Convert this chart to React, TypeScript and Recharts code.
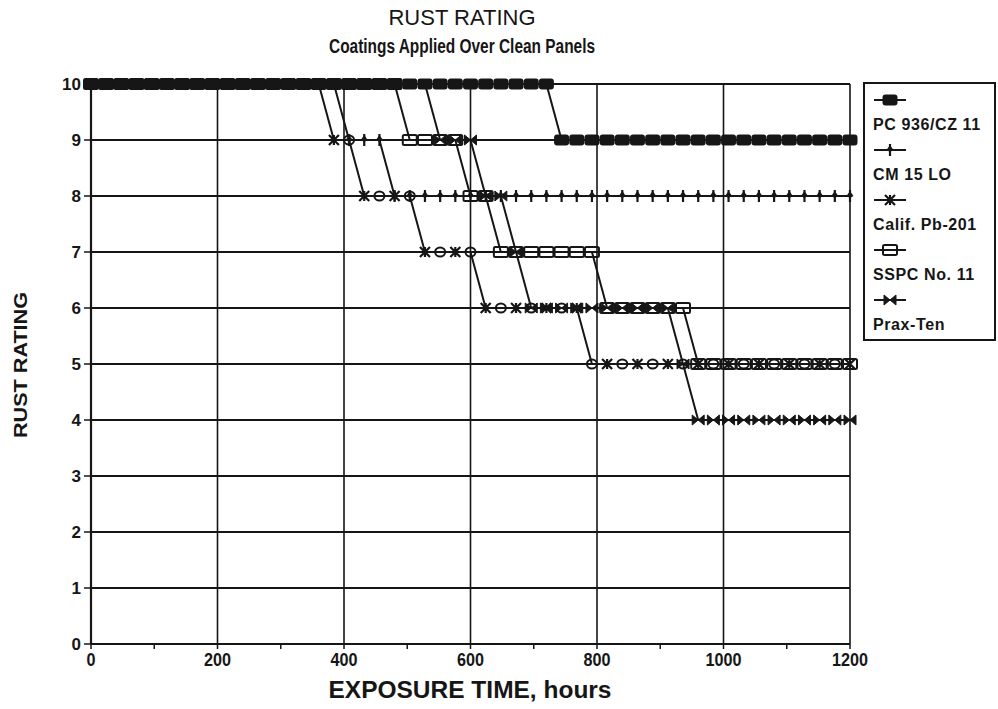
import React from "react";
import { LineChart, Line, XAxis, YAxis, CartesianGrid, ReferenceLine } from "recharts";

// exposure time (hours) of each inspection
const hours = [
  0, 24, 48, 72, 96, 120, 144, 168, 192, 216, 240, 264, 288, 312, 336, 360, 384, 408, 432, 456,
  480, 504, 528, 552, 576, 600, 624, 648, 672, 696, 720, 744, 768, 792, 816, 840, 864, 888, 912,
  936, 960, 984, 1008, 1032, 1056, 1080, 1104, 1128, 1152, 1176, 1200,
];

// rust rating for each coating
const pcRating = [
  10, 10, 10, 10, 10, 10, 10, 10, 10, 10, 10, 10, 10, 10, 10, 10, 10, 10, 10, 10,
  10, 10, 10, 10, 10, 10, 10, 10, 10, 10, 10, 9, 9, 9, 9, 9, 9, 9, 9,
  9, 9, 9, 9, 9, 9, 9, 9, 9, 9, 9, 9,
];
const cmRating = [
  10, 10, 10, 10, 10, 10, 10, 10, 10, 10, 10, 10, 10, 10, 10, 10, 10, 9, 9, 9,
  8, 8, 8, 8, 8, 8, 8, 8, 8, 8, 8, 8, 8, 8, 8, 8, 8, 8, 8,
  8, 8, 8, 8, 8, 8, 8, 8, 8, 8, 8, 8,
];
const califRating = [
  10, 10, 10, 10, 10, 10, 10, 10, 10, 10, 10, 10, 10, 10, 10, 10, 9, 9, 8, 8,
  8, 8, 7, 7, 7, 7, 6, 6, 6, 6, 6, 6, 6, 5, 5, 5, 5, 5, 5,
  5, 5, 5, 5, 5, 5, 5, 5, 5, 5, 5, 5,
];
const sspcRating = [
  10, 10, 10, 10, 10, 10, 10, 10, 10, 10, 10, 10, 10, 10, 10, 10, 10, 10, 10, 10,
  10, 9, 9, 9, 9, 8, 8, 7, 7, 7, 7, 7, 7, 7, 6, 6, 6, 6, 6,
  6, 5, 5, 5, 5, 5, 5, 5, 5, 5, 5, 5,
];
const praxRating = [
  10, 10, 10, 10, 10, 10, 10, 10, 10, 10, 10, 10, 10, 10, 10, 10, 10, 10, 10, 10,
  10, 10, 10, 9, 9, 9, 8, 8, 7, 6, 6, 6, 6, 6, 6, 6, 6, 6, 6,
  5, 4, 4, 4, 4, 4, 4, 4, 4, 4, 4, 4,
];

const seriesNames = ["PC 936/CZ 11", "CM 15 LO", "Calif. Pb-201", "SSPC No. 11", "Prax-Ten"];
const seriesKinds = ["pc", "cm", "calif", "sspc", "prax"];

const xTicks = [0, 100, 200, 300, 400, 500, 600, 700, 800, 900, 1000, 1100, 1200];
const yTicks = [0, 1, 2, 3, 4, 5, 6, 7, 8, 9, 10];
const gridHours = [200, 400, 600, 800, 1000, 1200];

const rows = hours.map((h, i) => ({
  h,
  pc: pcRating[i],
  cm: cmRating[i],
  calif: califRating[i],
  sspc: sspcRating[i],
  prax: praxRating[i],
}));

const INK = "#161616";
const FONT = "'Liberation Sans', Arial, sans-serif";

function Marker({ kind, cx, cy, index }: { kind: string; cx: number; cy: number; index: number }) {
  if (cx == null || cy == null) return null;
  switch (kind) {
    case "pc":
      return <rect x={cx - 7.5} y={cy - 5.5} width={15} height={11} rx={3} fill={INK} />;
    case "cm":
      return (
        <g>
          <line x1={cx} y1={cy - 6} x2={cx} y2={cy + 6} stroke={INK} strokeWidth={2.2} />
          <path d={`M${cx - 3.5} ${cy} L${cx} ${cy - 5} L${cx + 3.5} ${cy} L${cx} ${cy + 2} Z`} fill={INK} />
        </g>
      );
    case "calif":
      return index % 2 === 0 ? (
        <path
          d={`M${cx - 5} ${cy - 5} L${cx + 5} ${cy + 5} M${cx - 5} ${cy + 5} L${cx + 5} ${cy - 5} M${cx} ${cy - 5} L${cx} ${cy + 5}`}
          stroke={INK}
          strokeWidth={2.2}
          fill="none"
        />
      ) : (
        <ellipse cx={cx} cy={cy} rx={5} ry={4.5} stroke={INK} strokeWidth={2} fill="none" />
      );
    case "sspc":
      return <rect x={cx - 7} y={cy - 5} width={14} height={10} rx={1.5} stroke={INK} strokeWidth={2} fill="none" />;
    case "prax":
      return (
        <path
          d={`M${cx - 6} ${cy - 5} L${cx + 6} ${cy + 5} L${cx + 6} ${cy - 5} L${cx - 6} ${cy + 5} Z`}
          fill={INK}
          stroke={INK}
          strokeWidth={1}
        />
      );
    default:
      return null;
  }
}

function dotFor(kind: string) {
  return (p: any) => <Marker key={`${kind}-${p.index}`} kind={kind} cx={p.cx} cy={p.cy} index={p.index} />;
}

function XTick({ x, y, payload }: any) {
  if (payload.value % 200 !== 0) return <g />;
  const w = String(payload.value).length * 9;
  return (
    <text
      x={x}
      y={y + 15}
      textAnchor="middle"
      fontFamily={FONT}
      fontWeight="bold"
      fontSize={19}
      textLength={w}
      lengthAdjust="spacingAndGlyphs"
      fill={INK}
    >
      {payload.value}
    </text>
  );
}

function YTick({ x, y, payload }: any) {
  return (
    <text x={x - 1} y={y + 6} textAnchor="end" fontFamily={FONT} fontWeight="bold" fontSize={17} fill={INK}>
      {payload.value}
    </text>
  );
}

export default function App() {
  return (
    <div style={{ position: "absolute", left: 0, top: 0, width: 998, height: 709, background: "#fff" }}>
      <LineChart width={998} height={709} data={rows} margin={{ top: 84, right: 148, bottom: 35, left: 61 }}>
        <CartesianGrid vertical={false} stroke={INK} strokeWidth={2} />
        {gridHours.map((g) => (
          <ReferenceLine key={g} x={g} stroke={INK} strokeWidth={1.6} />
        ))}
        <ReferenceLine y={10} stroke={INK} strokeWidth={1.6} />
        <XAxis
          dataKey="h"
          type="number"
          domain={[0, 1200]}
          ticks={xTicks}
          tick={<XTick />}
          tickSize={5}
          tickLine={{ stroke: INK, strokeWidth: 1.5 }}
          axisLine={{ stroke: INK, strokeWidth: 2.2 }}
          height={30}
          interval={0}
        />
        <YAxis
          type="number"
          domain={[0, 10]}
          ticks={yTicks}
          tick={<YTick />}
          tickSize={7}
          tickLine={{ stroke: INK, strokeWidth: 1.5 }}
          axisLine={{ stroke: INK, strokeWidth: 2.2 }}
          width={30}
          interval={0}
        />
        <Line type="linear" dataKey="prax" name={seriesNames[4]} stroke={INK} strokeWidth={2} dot={dotFor("prax")} isAnimationActive={false} />
        <Line type="linear" dataKey="sspc" name={seriesNames[3]} stroke={INK} strokeWidth={2} dot={dotFor("sspc")} isAnimationActive={false} />
        <Line type="linear" dataKey="calif" name={seriesNames[2]} stroke={INK} strokeWidth={2} dot={dotFor("calif")} isAnimationActive={false} />
        <Line type="linear" dataKey="cm" name={seriesNames[1]} stroke={INK} strokeWidth={2} dot={dotFor("cm")} isAnimationActive={false} />
        <Line type="linear" dataKey="pc" name={seriesNames[0]} stroke={INK} strokeWidth={2} dot={dotFor("pc")} isAnimationActive={false} />
      </LineChart>

      <svg width={998} height={709} style={{ position: "absolute", left: 0, top: 0, pointerEvents: "none" }}>
        <text x={462} y={25} textAnchor="middle" fontFamily={FONT} fontSize={22} fill={INK}>
          RUST RATING
        </text>
        <text
          x={462}
          y={53}
          textAnchor="middle"
          fontFamily={FONT}
          fontWeight="bold"
          fontSize={20}
          textLength={266}
          lengthAdjust="spacingAndGlyphs"
          fill={INK}
        >
          Coatings Applied Over Clean Panels
        </text>
        <text
          x={27}
          y={365}
          transform="rotate(-90 27 365)"
          textAnchor="middle"
          fontFamily={FONT}
          fontWeight="bold"
          fontSize={19}
          textLength={146}
          lengthAdjust="spacingAndGlyphs"
          fill={INK}
        >
          RUST RATING
        </text>
        <text
          x={470}
          y={698}
          textAnchor="middle"
          fontFamily={FONT}
          fontWeight="bold"
          fontSize={23}
          textLength={283}
          lengthAdjust="spacingAndGlyphs"
          fill={INK}
        >
          EXPOSURE TIME, hours
        </text>

        <rect x={864} y={83} width={131} height={257} fill="#fff" stroke={INK} strokeWidth={2} />
        {seriesNames.map((name, i) => {
          const my = 100 + i * 50;
          return (
            <g key={name}>
              <line x1={874} y1={my} x2={906} y2={my} stroke={INK} strokeWidth={2} />
              <Marker kind={seriesKinds[i]} cx={890} cy={my} index={0} />
              <text x={873} y={my + 30} fontFamily={FONT} fontWeight="bold" fontSize={16} letterSpacing={0.6} fill={INK}>
                {name}
              </text>
            </g>
          );
        })}
      </svg>
    </div>
  );
}
